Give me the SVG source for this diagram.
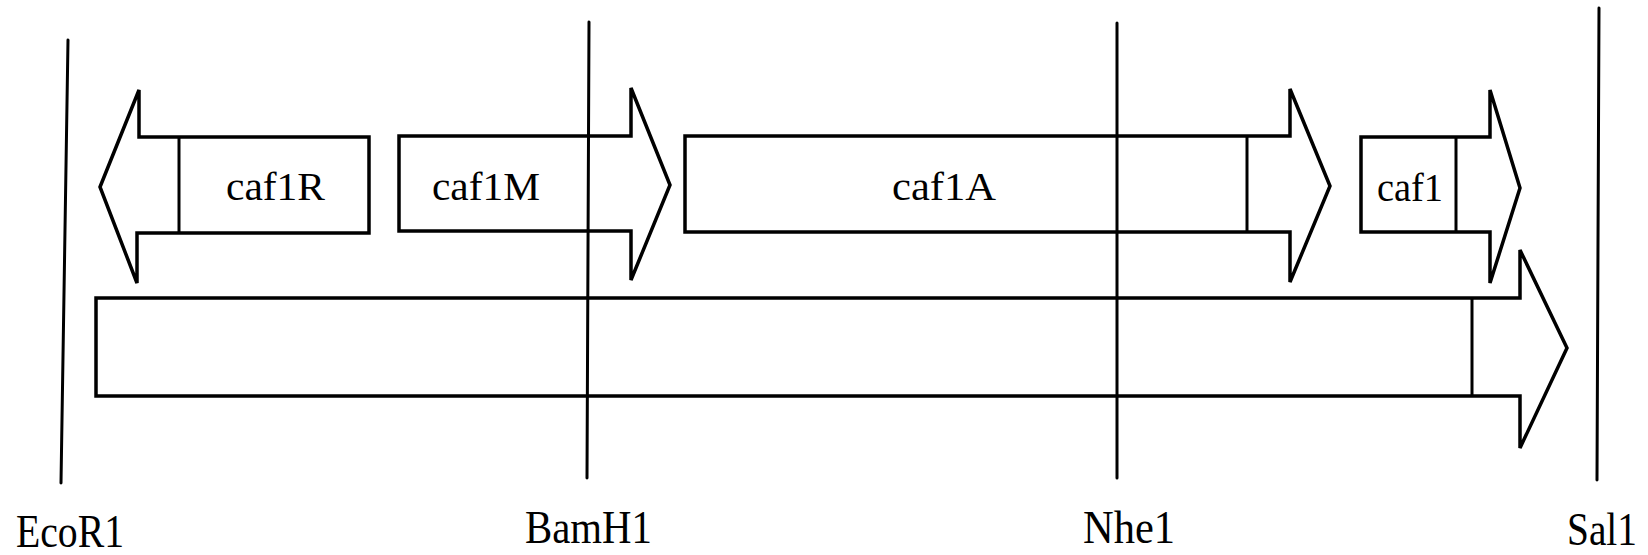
<svg xmlns="http://www.w3.org/2000/svg" width="1648" height="555" viewBox="0 0 1648 555">
  <style>
    .gene { fill: #ffffff; stroke: #000000; stroke-width: 3.5; stroke-linejoin: miter; }
    .div { fill: none; stroke: #000000; stroke-width: 3; }
    .site { fill: none; stroke: #000000; stroke-width: 3; stroke-linecap: round; }
    .glabel { font-family: "Liberation Serif", "Times New Roman", serif; font-size: 41px; fill: #000000; text-anchor: start; }
    .slabel { font-family: "Liberation Serif", "Times New Roman", serif; font-size: 47px; fill: #000000; text-anchor: start; }
  </style>
  <rect x="0" y="0" width="1648" height="555" fill="#ffffff"/>

  <!-- gene arrows -->
  <g id="caf1R">
    <polygon class="gene" points="100,187 139,90 139,137 369,137 369,233 137,233 137,283"/>
    <line class="div" x1="179" y1="137" x2="179" y2="233"/>
    <text class="glabel" x="226" y="200" textLength="99" lengthAdjust="spacingAndGlyphs">caf1R</text>
  </g>
  <g id="caf1M">
    <polygon class="gene" points="399,136 631,136 631,88 670,185 631,280 631,231 399,231"/>
    <text class="glabel" x="432" y="200" textLength="108" lengthAdjust="spacingAndGlyphs">caf1M</text>
  </g>
  <g id="caf1A">
    <polygon class="gene" points="685,136 1290,136 1290,89 1330,186 1290,282 1290,232 685,232"/>
    <line class="div" x1="1247" y1="136" x2="1247" y2="232"/>
    <text class="glabel" x="892" y="200" textLength="104" lengthAdjust="spacingAndGlyphs">caf1A</text>
  </g>
  <g id="caf1">
    <polygon class="gene" points="1361,137 1490,137 1490,90 1520,188 1490,283 1490,232 1361,232"/>
    <line class="div" x1="1456" y1="137" x2="1456" y2="232"/>
    <text class="glabel" x="1377" y="201" textLength="66" lengthAdjust="spacingAndGlyphs">caf1</text>
  </g>
  <g id="operon">
    <polygon class="gene" points="96,298 1520,298 1520,250 1567,348 1520,448 1520,396 96,396"/>
    <line class="div" x1="1472" y1="298" x2="1472" y2="396"/>
  </g>

  <!-- restriction site markers -->
  <g id="sites">
    <line class="site" x1="68" y1="40" x2="61" y2="483"/>
    <line class="site" x1="589" y1="22" x2="587" y2="478"/>
    <line class="site" x1="1117" y1="23" x2="1117" y2="478"/>
    <line class="site" x1="1599" y1="8" x2="1597" y2="480"/>
  </g>

  <g id="site-labels">
    <text class="slabel" x="16" y="547" textLength="108" lengthAdjust="spacingAndGlyphs">EcoR1</text>
    <text class="slabel" x="525" y="543" textLength="127" lengthAdjust="spacingAndGlyphs">BamH1</text>
    <text class="slabel" x="1083" y="543" textLength="92" lengthAdjust="spacingAndGlyphs">Nhe1</text>
    <text class="slabel" x="1567" y="545" textLength="70" lengthAdjust="spacingAndGlyphs">Sal1</text>
  </g>
</svg>
